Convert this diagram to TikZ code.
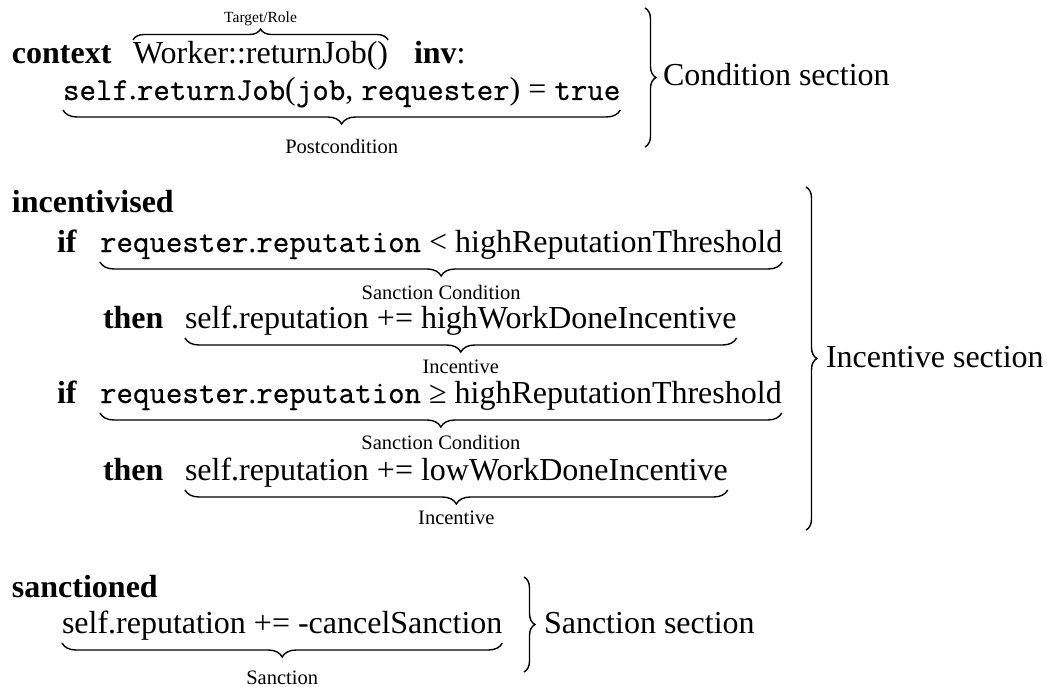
\documentclass[tikz,border=0pt]{standalone}
\usepackage{fontspec}
\setmainfont{Liberation Serif}
\setmonofont{Latin Modern Mono}[FakeBold=0.6]
\usetikzlibrary{decorations.pathreplacing}

% code words set in typewriter, the rest in the serif face
\newcommand\cw[1]{\texttt{#1}}

\tikzset{
  every node/.style={inner sep=0pt, outer sep=0pt},
  txt/.style={anchor=base west, font=\fontsize{32}{36}\selectfont},
  sectlabel/.style={anchor=base west, font=\fontsize{32}{36}\selectfont},
  bracelabel/.style={midway, anchor=base, yshift=#1, font=\fontsize{20.5}{24}\selectfont},
  toplabel/.style={midway, anchor=base, yshift=#1, font=\fontsize{15.5}{18}\selectfont},
  brc/.style={decorate, decoration={brace, amplitude=#1}, line width=1.4pt},
}

\begin{document}
\begin{tikzpicture}[x=1pt, y=1pt]
\useasboundingbox (0,0) rectangle (1047,-687);

% ---- condition section ----
\node[txt] (ctx)  at (12,-64)  {\textbf{context}};
\node[txt] (wrk)  at (133,-64) {Worker::returnJob()};
\node[txt] (inv)  at (414,-64) {\textbf{inv}:};
\node[txt] (post) at (63,-100)
  {\cw{self}.\cw{returnJob}(\cw{job}, \cw{requester}) = \cw{true}};

\draw[brc=11] ([yshift=24pt]wrk.base west) -- ([yshift=24pt]wrk.base east)
  node[toplabel=17pt] (target) {Target/Role};
\draw[brc=14] ([yshift=-10pt]post.base east) -- ([yshift=-10pt]post.base west)
  node[bracelabel=-44pt] (postlbl) {Postcondition};

\coordinate (condTop) at (645,-8);
\coordinate (condBot) at (645,-147);
\draw[brc=11] (condTop) -- (condBot);
\node[sectlabel] (condsec) at (663,-86) {Condition section};

% ---- incentive section ----
\node[txt] (incv)  at (12,-213)  {\textbf{incentivised}};
\node[txt] (if1)   at (57,-252)  {\textbf{if}};
\node[txt] (cond1) at (100,-252)
  {\cw{requester}.\cw{reputation} < highReputationThreshold};
\node[txt] (then1) at (103,-328) {\textbf{then}};
\node[txt] (inc1)  at (185,-328) {self.reputation += highWorkDoneIncentive};
\node[txt] (if2)   at (57,-403)  {\textbf{if}};
\node[txt] (cond2) at (100,-403)
  {\cw{requester}.\cw{reputation} ≥ highReputationThreshold};
\node[txt] (then2) at (103,-480) {\textbf{then}};
\node[txt] (inc2)  at (185,-480) {self.reputation += lowWorkDoneIncentive};

\draw[brc=14] ([yshift=-10pt]cond1.base east) -- ([yshift=-10pt]cond1.base west)
  node[bracelabel=-37pt] (sc1) {Sanction Condition};
\draw[brc=14] ([yshift=-10pt]inc1.base east) -- ([yshift=-10pt]inc1.base west)
  node[bracelabel=-35pt] (il1) {Incentive};
\draw[brc=14] ([yshift=-10pt]cond2.base east) -- ([yshift=-10pt]cond2.base west)
  node[bracelabel=-36pt] (sc2) {Sanction Condition};
\draw[brc=14] ([yshift=-10pt]inc2.base east) -- ([yshift=-10pt]inc2.base west)
  node[bracelabel=-34pt] (il2) {Incentive};

\coordinate (incTop) at (806,-187);
\coordinate (incBot) at (806,-530);
\draw[brc=11] (incTop) -- (incBot);
\node[sectlabel] (incsec) at (826,-367) {Incentive section};

% ---- sanction section ----
\node[txt] (sanc) at (12,-597) {\textbf{sanctioned}};
\node[txt] (san1) at (62,-633) {self.reputation += -cancelSanction};
\draw[brc=14] ([yshift=-10pt]san1.base east) -- ([yshift=-10pt]san1.base west)
  node[bracelabel=-41pt] (sl) {Sanction};

\coordinate (sanTop) at (524,-577);
\coordinate (sanBot) at (524,-672);
\draw[brc=11] (sanTop) -- (sanBot);
\node[sectlabel] (sansec) at (544,-633) {Sanction section};
\end{tikzpicture}
\end{document}
